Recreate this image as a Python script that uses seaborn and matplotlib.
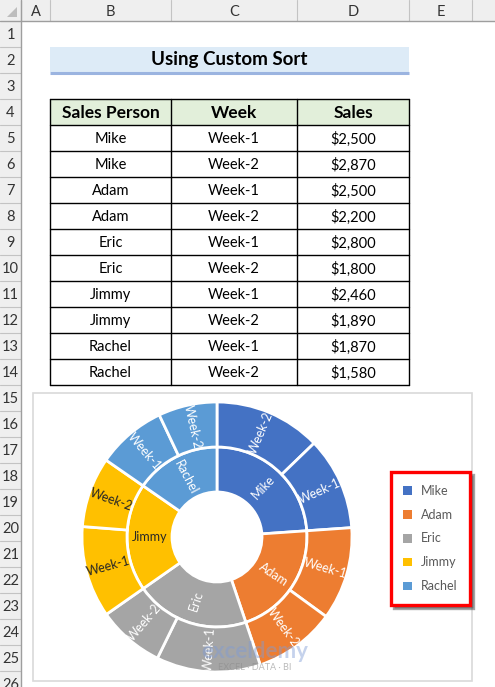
import numpy as np
import pandas as pd
import seaborn as sns
import matplotlib.pyplot as plt
from matplotlib.patches import Rectangle, Patch, Polygon

# data from the sheet
sales_person = ['Mike', 'Mike', 'Adam', 'Adam', 'Eric', 'Eric', 'Jimmy', 'Jimmy', 'Rachel', 'Rachel']
week = ['Week-1', 'Week-2'] * 5
sales = [2500, 2870, 2500, 2200, 2800, 1800, 2460, 1890, 1870, 1580]
people = ['Mike', 'Adam', 'Eric', 'Jimmy', 'Rachel']
people_colors = ['#4472C4', '#ED7D31', '#A5A5A5', '#FFC000', '#5B9BD5']
headers = ['Sales Person', 'Week', 'Sales']
col_letters = ['A', 'B', 'C', 'D', 'E', '']
title = 'Using Custom Sort'

df = pd.DataFrame({'Sales Person': sales_person, 'Week': week, 'Sales': sales})

sns.set_theme(style='white')
plt.rcParams['font.family'] = ['Lato', 'DejaVu Sans']
palette = dict(zip(people, sns.color_palette(people_colors)))

W, H = 495, 687
fig = plt.figure(figsize=(W / 100, H / 100), dpi=100)
ax = fig.add_axes([0, 0, 1, 1])
ax.set_xlim(0, W)
ax.set_ylim(H, 0)
ax.axis('off')

# -------------------------------
# sheet frame (column / row headers)
# -------------------------------
col_x = [21, 50, 171, 297, 409, 472, W + 40]
row_h, top = 26, 21
def row_top(r):
    return top + row_h * (r - 1)

ax.add_patch(Rectangle((0, 0), W, top, facecolor='#EFEFEF', edgecolor='none'))
ax.add_patch(Rectangle((0, 0), col_x[0], H, facecolor='#EFEFEF', edgecolor='none'))
for x in col_x:
    ax.plot([x, x], [0, top], color='#C3C3C3', lw=0.8)
for i, letter in enumerate(col_letters):
    ax.text((col_x[i] + col_x[i + 1]) / 2, top / 2 + 1, letter, ha='center', va='center',
            fontsize=10.5, color='#333333')
for r in range(1, 27):
    y = row_top(r)
    ax.plot([0, col_x[0]], [y + row_h, y + row_h], color='#C3C3C3', lw=0.8)
    ax.text(col_x[0] / 2, y + row_h / 2 + 1, str(r), ha='center', va='center',
            fontsize=10.5, color='#333333')
ax.plot([0, W], [top, top], color='#9E9E9E', lw=1)
ax.plot([col_x[0], col_x[0]], [0, H], color='#9E9E9E', lw=1)
ax.add_patch(Polygon([[7, 17], [17, 17], [17, 7]], closed=True, facecolor='#BDBDBD', edgecolor='none'))

# title band
x0, x1 = col_x[1], col_x[4]
ax.add_patch(Rectangle((x0, row_top(2)), x1 - x0, row_h - 1.5, facecolor='#DDEBF7', edgecolor='none'))
ax.plot([x0, x1], [row_top(3) - 0.5, row_top(3) - 0.5], color='#9BB4E0', lw=2.2, solid_capstyle='butt')
ax.text((x0 + x1) / 2, row_top(2) + row_h / 2, title, ha='center', va='center',
        fontsize=13.5, fontweight='bold', color='black')

# -------------------------------
# table
# -------------------------------
ax.add_patch(Rectangle((x0, row_top(4)), x1 - x0, row_h, facecolor='#E2EFDA', edgecolor='none'))
for j, h in enumerate(headers):
    ax.text((col_x[j + 1] + col_x[j + 2]) / 2, row_top(4) + row_h / 2 + 1, h,
            ha='center', va='center', fontsize=12.5, fontweight='bold', color='black')
for i, row in df.iterrows():
    y = row_top(5 + i) + row_h / 2 + 1
    vals = [row['Sales Person'], row['Week'], f"${row['Sales']:,}"]
    for j, v in enumerate(vals):
        ax.text((col_x[j + 1] + col_x[j + 2]) / 2, y, v, ha='center', va='center',
                fontsize=10.5, color='black')
for r in range(4, 16):
    ax.plot([x0, x1], [row_top(r), row_top(r)], color='black', lw=1)
for x in col_x[1:5]:
    ax.plot([x, x], [row_top(4), row_top(15)], color='black', lw=1)

# chart area
ax.add_patch(Rectangle((33, 393), 439, 288, facecolor='white', edgecolor='#D9D9D9', lw=1.2))

# -------------------------------
# sunburst (two donut rings)
# -------------------------------
cx, cy, R = 217, 537, 135
pax = fig.add_axes([(cx - R) / W, (H - cy - R) / H, 2 * R / W, 2 * R / H])
pax.patch.set_alpha(0)

inner = df.groupby('Sales Person', sort=False)['Sales'].sum().reindex(people)
outer = (df.assign(order=df['Sales Person'].map({p: k for k, p in enumerate(people)}))
           .sort_values(['order', 'Sales'], ascending=[True, False]))

ring = 45 / R
w_in, _ = pax.pie(inner.values, radius=90 / R, startangle=90, counterclock=False,
                  colors=[palette[p] for p in inner.index],
                  wedgeprops=dict(width=ring, edgecolor='white', linewidth=2))
w_out, _ = pax.pie(outer['Sales'].values, radius=1, startangle=90, counterclock=False,
                   colors=[palette[p] for p in outer['Sales Person']],
                   wedgeprops=dict(width=ring, edgecolor='white', linewidth=2))
pax.set_xlim(-1, 1)
pax.set_ylim(-1, 1)
pax.set_aspect('equal')

def put_label(wedge, text, r, color):
    ang = (wedge.theta1 + wedge.theta2) / 2
    rad = np.deg2rad(ang)
    rot = (ang + 180) % 360 - 180
    if rot > 90:
        rot -= 180
    elif rot < -90:
        rot += 180
    pax.text(r * np.cos(rad), r * np.sin(rad), text, rotation=rot, rotation_mode='anchor',
             ha='center', va='center', fontsize=9, color=color)

for wdg, p in zip(w_in, inner.index):
    put_label(wdg, p, 67.5 / R, '#262626' if p == 'Jimmy' else 'white')
for wdg, (p, wk) in zip(w_out, zip(outer['Sales Person'], outer['Week'])):
    put_label(wdg, wk, 112.5 / R, '#262626' if p == 'Jimmy' else 'white')

# legend with the red highlight box
handles = [Patch(facecolor=palette[p], edgecolor='none') for p in people]
leg = fig.legend(handles, people, loc='center', bbox_to_anchor=(430.5 / W, 1 - 538.5 / H),
                 frameon=True, fancybox=False, shadow=True, fontsize=9,
                 labelspacing=0.95, borderpad=1.0, handlelength=0.7, handleheight=0.7,
                 handletextpad=0.7, labelcolor='#595959')
leg.get_frame().set_edgecolor('red')
leg.get_frame().set_linewidth(2.4)

# watermark
fig.text(255 / W, 1 - 652 / H, 'exceldemy', ha='center', va='center', fontsize=16,
         fontweight='bold', color='#7F9CD6', alpha=0.45)
fig.text(255 / W, 1 - 667 / H, 'EXCEL · DATA · BI', ha='center', va='center', fontsize=6.5,
         color='#8C8C8C', alpha=0.6)

plt.savefig('out.png', dpi=100)
